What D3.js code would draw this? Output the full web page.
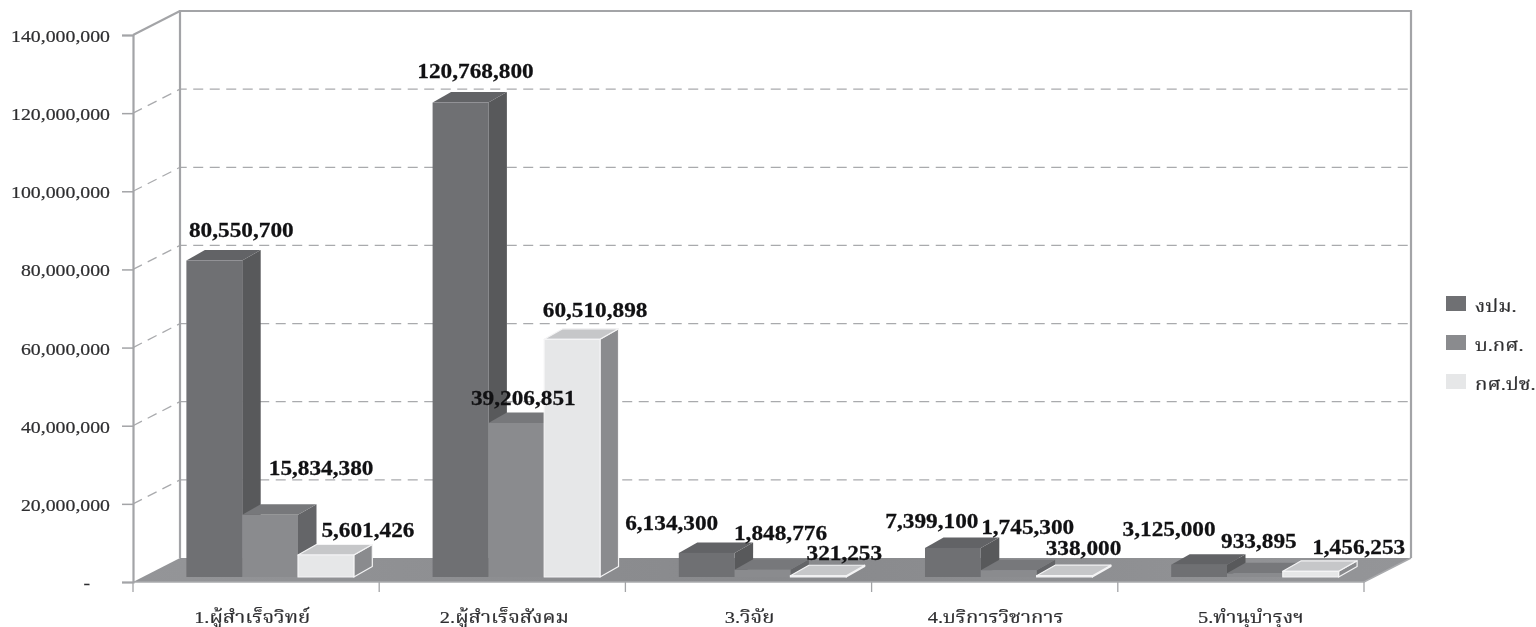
<!DOCTYPE html>
<html><head><meta charset="utf-8">
<script src="https://cdn.jsdelivr.net/npm/d3@7"></script>
<style>
html,body{margin:0;padding:0;background:#fff;overflow:hidden}
svg{display:block;filter:blur(0.5px)}
text{font-family:"Liberation Serif","Noto Serif Thai","Noto Sans Thai","Noto Sans",serif}
</style></head><body><svg id="c" width="1536" height="627"></svg>
<script>
const categories = ["1.ผู้สำเร็จวิทย์","2.ผู้สำเร็จสังคม","3.วิจัย","4.บริการวิชาการ","5.ทำนุบำรุงฯ"];
const seriesNames = ["งปม.","บ.กศ.","กศ.ปช."];
const budgetA = [80550700,120768800,6134300,7399100,3125000];
const budgetB = [15834380,39206851,1848776,1745300,933895];
const budgetC = [5601426,60510898,321253,338000,1456253];
const yTicks = [0,20000000,40000000,60000000,80000000,100000000,120000000,140000000];

const seriesValues = [budgetA,budgetB,budgetC];
const frontFill = ["#6f7073","#8a8b8e","#e6e7e8"];
const sideFill  = ["#58595b","#646568","#8a8b8e"];
const topFill   = ["#626366","#77787b","#c6c7c9"];
const edge      = ["none","none","#f4f4f5"];
// label displacement from the top-centre of each bar [series][category]
const nudge = [
 [[27,-24],[15,-25],[-35,-23],[-21,-20],[-30,-29]],
 [[51,-40],[7,-18],[18,-30],[19,-36],[4,-25]],
 [[42,-18],[23,-22],[26,-16],[19,-21],[48,-17]]
];
const catNudge = [-4,2,1,1,10];

const svg = d3.select("#c");
const W = {dx:47,dy:-24};           // wall depth
const B = {dx:18.5,dy:-10.5};       // bar depth
const stretch = 1.2;                // source picture is horizontally stretched
const y = d3.scaleLinear().domain([0,140000000]).range([582,35]);
const yBar = d3.scaleLinear().domain([0,140000000]).range([577,27]);
const x = d3.scaleBand().domain(categories).range([133,1364]);
const xBars = d3.scaleBand().domain(categories).range([147,1378]).paddingInner(0.32).paddingOuter(0.16);
const xS = d3.scaleBand().domain(d3.range(3)).range([0,xBars.bandwidth()]);
const wall = "#a3a4a7";
const pts = a=>a.map(p=>p.join(",")).join(" ");
const x0=133,x1=1364,yB=y(0),yT=y(140000000);

// floor
const grad = svg.append("defs").append("linearGradient").attr("id","fl");
grad.append("stop").attr("offset","0").attr("stop-color","#949598");
grad.append("stop").attr("offset","0.5").attr("stop-color","#88898c");
grad.append("stop").attr("offset","1").attr("stop-color","#949598");
svg.append("polygon").attr("points",pts([[x0,yB],[x0+W.dx,yB+W.dy],[x1+W.dx,yB+W.dy],[x1,yB]])).attr("fill","url(#fl)");
svg.append("polyline").attr("points",pts([[x1+W.dx,yB+W.dy],[x1,yB],[x0,yB]])).attr("fill","none").attr("stroke","#a9aaad").attr("stroke-width",1.5);

// gridlines
const grid = yTicks.filter(t=>t>0&&t<140000000);
svg.append("g").selectAll("polyline").data(grid).join("polyline")
  .attr("points",d=>pts([[x0,y(d)],[x0+W.dx,y(d)+W.dy],[x1+W.dx,y(d)+W.dy]]))
  .attr("fill","none").attr("stroke","#a9aaad").attr("stroke-width",1.3).attr("stroke-dasharray","10 6.5");

// walls
svg.append("polyline").attr("points",pts([[x0+W.dx,yB+W.dy],[x0+W.dx,yT+W.dy],[x1+W.dx,yT+W.dy],[x1+W.dx,yB+W.dy]]))
  .attr("fill","none").attr("stroke",wall).attr("stroke-width",2.2);
svg.append("line").attr("x1",x0).attr("y1",yT).attr("x2",x0+W.dx).attr("y2",yT+W.dy).attr("stroke",wall).attr("stroke-width",2);

// axes
const axY = d3.axisLeft(y).tickValues(yTicks).tickSize(11).tickPadding(0)
  .tickFormat(d=>d===0?"-":d3.format(",")(d));
const gY = svg.append("g").attr("transform",`translate(${x0},0)`).call(axY);
gY.select(".domain").attr("stroke",wall).attr("stroke-width",2.2);
gY.selectAll(".tick line").attr("stroke",wall).attr("stroke-width",1.5);
gY.selectAll(".tick text").attr("fill","#2e2e30").attr("font-size",16.5)
  .attr("stroke","#2e2e30").attr("stroke-width",0.2)
  .attr("dy",0).attr("y",6.5)
  .attr("x",d=>(d===0?-43:-23)/stretch)
  .attr("transform",`scale(${stretch},1)`);

const axX = d3.axisBottom(x).tickSize(0).tickPadding(0);
const gX = svg.append("g").attr("transform",`translate(0,${yB})`).call(axX);
gX.select(".domain").remove();
gX.selectAll(".tick").each(function(d,i){
  const m = d3.select(this).attr("transform").match(/translate\(([\d.]+)/);
  d3.select(this).attr("transform",`translate(${+m[1]+catNudge[i]},0)`);
});
gX.selectAll(".tick text").attr("fill","#2e2e30").attr("font-size",17)
  .attr("stroke","#2e2e30").attr("stroke-width",0.2)
  .attr("dy",0).attr("y",41).attr("transform",`scale(${stretch},1)`);
svg.append("g").selectAll("line").data(d3.range(categories.length+1)).join("line")
  .attr("x1",i=>x0+i*x.step()).attr("x2",i=>x0+i*x.step()).attr("y1",yB).attr("y2",yB+10)
  .attr("stroke",wall).attr("stroke-width",1.3);

// bars
const bars = svg.append("g");
seriesValues.forEach((vals,s)=>{
  const g = bars.append("g");
  const d = categories.map((c,i)=>({c,i,v:vals[i],l:xBars(c)+xS(s),w:xS.bandwidth(),t:yBar(vals[i]),b:yBar(0)}));
  const style = sel=>sel.attr("stroke",edge[s]).attr("stroke-width",1.2).attr("stroke-linejoin","round");
  g.selectAll(".side").data(d).join("polygon").attr("fill",sideFill[s]).call(style)
    .attr("points",e=>pts([[e.l+e.w,e.t],[e.l+e.w+B.dx,e.t+B.dy],[e.l+e.w+B.dx,e.b+B.dy],[e.l+e.w,e.b]]));
  g.selectAll(".top").data(d).join("polygon").attr("fill",topFill[s]).call(style)
    .attr("points",e=>pts([[e.l,e.t],[e.l+B.dx,e.t+B.dy],[e.l+e.w+B.dx,e.t+B.dy],[e.l+e.w,e.t]]));
  g.selectAll(".front").data(d).join("rect").attr("fill",frontFill[s]).call(style)
    .attr("x",e=>e.l).attr("y",e=>e.t).attr("width",e=>e.w).attr("height",e=>e.b-e.t);
});

// value labels
seriesValues.forEach((vals,s)=>{
  svg.append("g").selectAll("text").data(categories.map((c,i)=>({c,i,v:vals[i]}))).join("text")
    .attr("text-anchor","middle").attr("font-weight","bold").attr("font-size",20).attr("fill","#111113")
    .attr("stroke","#111113").attr("stroke-width",0.25)
    .attr("transform",e=>{
      const px = xBars(e.c)+xS(s)+xS.bandwidth()/2+nudge[s][e.i][0];
      const py = yBar(e.v)+nudge[s][e.i][1];
      return `translate(${px},${py}) scale(${stretch*0.97},1)`;
    })
    .text(e=>d3.format(",")(e.v));
});

// legend
const lg = d3.scalePoint().domain(seriesNames).range([296,374]);
const leg = svg.append("g").selectAll("g").data(seriesNames).join("g")
  .attr("transform",d=>`translate(1446,${lg(d)})`);
leg.append("rect").attr("width",20).attr("height",15).attr("fill",(d,i)=>frontFill[i]);
leg.append("text").attr("x",29/stretch).attr("y",16).attr("font-size",17).attr("fill","#2e2e30")
  .attr("stroke","#2e2e30").attr("stroke-width",0.2)
  .attr("transform",`scale(${stretch},1)`).text(d=>d);
</script></body></html>
